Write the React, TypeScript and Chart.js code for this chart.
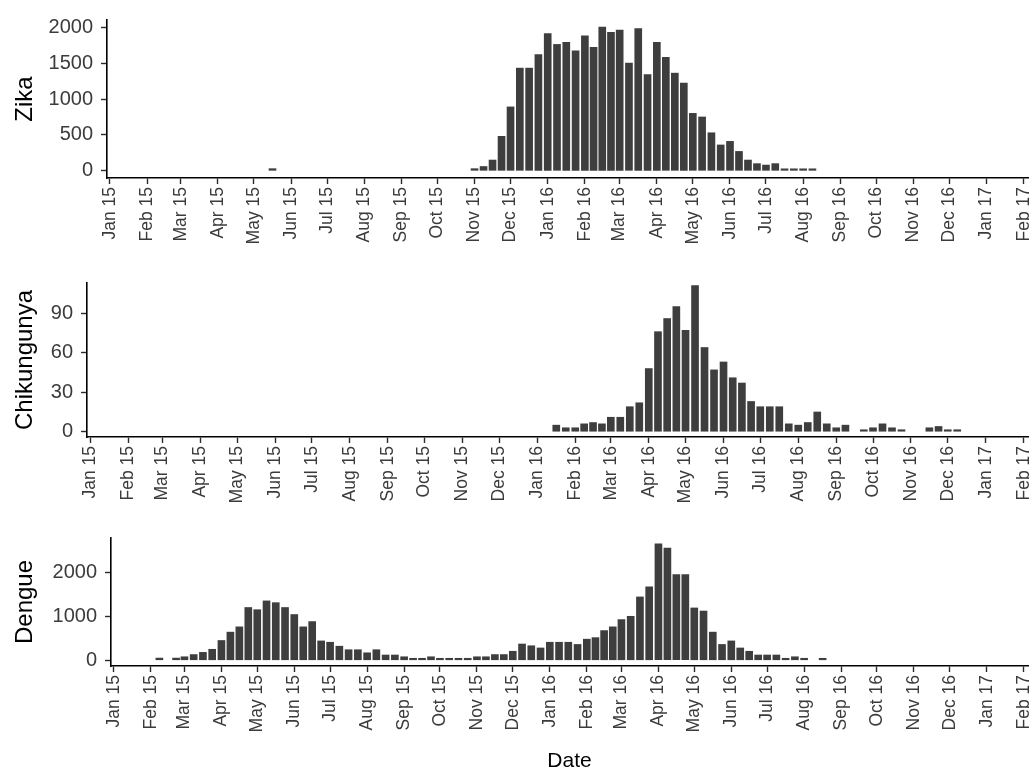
import React, { useEffect, useRef } from 'react';
import { Chart, registerables } from 'chart.js';

Chart.register(...registerables);

// Month tick labels (Jan 2015 .. Feb 2017)
const tickLabels = [
  'Jan 15', 'Feb 15', 'Mar 15', 'Apr 15', 'May 15', 'Jun 15', 'Jul 15', 'Aug 15', 'Sep 15', 'Oct 15', 'Nov 15', 'Dec 15',
  'Jan 16', 'Feb 16', 'Mar 16', 'Apr 16', 'May 16', 'Jun 16', 'Jul 16', 'Aug 16', 'Sep 16', 'Oct 16', 'Nov 16', 'Dec 16',
  'Jan 17', 'Feb 17',
];

// Periods are quarter-months counted from January 2015 (0 = first quarter of Jan 15)
const zikaStartPeriod = 40;
const zikaCases = [
  30, 60, 150, 480, 890, 1430, 1430, 1620, 1910, 1760, 1790, 1670, 1880, 1720, 2000, 1930, 1960, 1500, 1980, 1340,
  1790, 1580, 1360, 1220, 800, 750, 530, 360, 410, 270, 150, 100, 80, 100, 25, 25, 25, 25,
];
const zikaIsolatedPeriod = 18;
const zikaIsolatedCases = 30;

const chikStartPeriod = 50;
const chikCases = [
  5, 3, 3, 6, 7, 6, 11, 11, 19, 22, 48, 76, 86, 95, 77, 111, 64, 47, 53, 41, 37, 23, 19, 19, 19, 6, 5, 7, 15, 6, 3, 5,
  null, 1, 3, 6, 3, 1, null, null, 3, 4, 1, 1,
];

const dengueStartPeriod = 5;
const dengueCases = [
  50, null, 50, 80, 130, 180, 250, 450, 640, 760, 1200, 1150, 1350, 1310, 1200, 1040, 760, 880, 440, 410, 320, 240,
  240, 170, 240, 120, 120, 80, 45, 45, 80, 45, 45, 45, 45, 80, 80, 130, 130, 205, 370, 330, 280, 410, 410, 410, 360,
  480, 515, 675, 760, 925, 1000, 1440, 1670, 2650, 2550, 1950, 1950, 1190, 1120, 640, 360, 440, 280, 205, 120, 120,
  120, 45, 80, 45, null, 45,
];

const zikaYTicks = [0, 500, 1000, 1500, 2000];
const chikYTicks = [0, 30, 60, 90];
const dengueYTicks = [0, 1000, 2000];

const FONT = '"Liberation Sans", Arial, Helvetica, sans-serif';
const BAR_COLOR = '#3e3e3e';
const TEXT_COLOR = '#3b3b3b';

const DAY_MS = 86400000;
const ORIGIN = Date.UTC(2015, 0, 1);
function monthStartDay(m: number): number {
  return (Date.UTC(2015 + Math.floor(m / 12), m % 12, 1) - ORIGIN) / DAY_MS;
}
function periodDay(p: number): number {
  const m = Math.floor(p / 4);
  const k = p % 4;
  const s = monthStartDay(m);
  return s + (k * (monthStartDay(m + 1) - s)) / 4;
}
const monthTicks = tickLabels.map((_, i) => monthStartDay(i));

function toPoints(start: number, values: (number | null)[]) {
  return values
    .map((v, i) => ({ x: periodDay(start + i), y: v }))
    .filter((p) => p.y !== null);
}

const X_MIN = -2.5;
const X_MAX = 765.5;

interface PanelOpts {
  points: { x: number; y: number | null }[];
  yTicks: number[];
  yMin: number;
  yMax: number;
  title: string;
  yWidth: number;
  xHeight: number;
  padTop: number;
  showDate: boolean;
}

function makeConfig(o: PanelOpts): any {
  const grid = {
    display: true,
    drawOnChartArea: false,
    drawTicks: true,
    tickLength: 6,
    tickColor: '#2a2a2a',
    tickWidth: 1.4,
    offset: false,
  };
  const border = { display: true, color: '#000', width: 1.6 };
  return {
    type: 'bar',
    data: {
      datasets: [
        {
          data: o.points,
          backgroundColor: BAR_COLOR,
          borderWidth: 0,
          barThickness: 7,
          minBarLength: 2,
        },
      ],
    },
    options: {
      animation: false,
      responsive: false,
      events: [],
      layout: { padding: { top: o.padTop, right: 5, bottom: 0, left: 0 } },
      plugins: { legend: { display: false }, tooltip: { enabled: false } },
      scales: {
        x: {
          type: 'linear',
          min: X_MIN,
          max: X_MAX,
          offset: false,
          afterBuildTicks: (s: any) => {
            s.ticks = monthTicks.map((v) => ({ value: v }));
          },
          afterFit: (s: any) => {
            s.height = o.xHeight;
            s.paddingRight = 0;
            s.paddingLeft = 0;
          },
          ticks: {
            autoSkip: false,
            minRotation: 90,
            maxRotation: 90,
            padding: 3,
            color: TEXT_COLOR,
            font: { family: FONT, size: 17.5 },
            callback: (_v: any, i: number) => tickLabels[i],
          },
          grid,
          border,
          title: {
            display: o.showDate,
            text: 'Date',
            color: '#000',
            font: { family: FONT, size: 21 },
            padding: { top: 0, bottom: 0 },
          },
        },
        y: {
          type: 'linear',
          min: o.yMin,
          max: o.yMax,
          afterBuildTicks: (s: any) => {
            s.ticks = o.yTicks.map((v) => ({ value: v }));
          },
          afterFit: (s: any) => {
            s.width = o.yWidth;
          },
          ticks: {
            padding: 8,
            color: TEXT_COLOR,
            font: { family: FONT, size: 20 },
            callback: (v: any) => String(v),
          },
          grid,
          border,
          title: {
            display: true,
            text: o.title,
            color: '#000',
            font: { family: FONT, size: 24 },
            padding: { top: 10.6, bottom: 0 },
          },
        },
      },
    },
  };
}

function Panel(props: { top: number; height: number; opts: PanelOpts }) {
  const ref = useRef<HTMLCanvasElement | null>(null);
  useEffect(() => {
    if (!ref.current) return;
    const chart = new Chart(ref.current, makeConfig(props.opts));
    return () => chart.destroy();
  }, []);
  return (
    <canvas
      ref={ref}
      width={1033}
      height={props.height}
      style={{ position: 'absolute', left: 0, top: props.top, width: 1033, height: props.height }}
    />
  );
}

export default function App() {
  const zikaPoints = [
    ...toPoints(zikaIsolatedPeriod, [zikaIsolatedCases]),
    ...toPoints(zikaStartPeriod, zikaCases),
  ];
  const chikPoints = toPoints(chikStartPeriod, chikCases);
  const denguePoints = toPoints(dengueStartPeriod, dengueCases);
  return (
    <div style={{ position: 'absolute', left: 0, top: 0, width: 1033, height: 774, overflow: 'hidden', background: '#fff' }}>
      <Panel
        top={0}
        height={250}
        opts={{
          points: zikaPoints,
          yTicks: zikaYTicks,
          yMin: -100,
          yMax: 2100,
          title: 'Zika',
          yWidth: 107,
          xHeight: 72,
          padTop: 17,
          showDate: false,
        }}
      />
      <Panel
        top={260}
        height={249}
        opts={{
          points: chikPoints,
          yTicks: chikYTicks,
          yMin: -4,
          yMax: 113,
          title: 'Chikungunya',
          yWidth: 87,
          xHeight: 72,
          padTop: 23,
          showDate: false,
        }}
      />
      <Panel
        top={515}
        height={259}
        opts={{
          points: denguePoints,
          yTicks: dengueYTicks,
          yMin: -130,
          yMax: 2780,
          title: 'Dengue',
          yWidth: 111,
          xHeight: 108,
          padTop: 23,
          showDate: true,
        }}
      />
    </div>
  );
}
